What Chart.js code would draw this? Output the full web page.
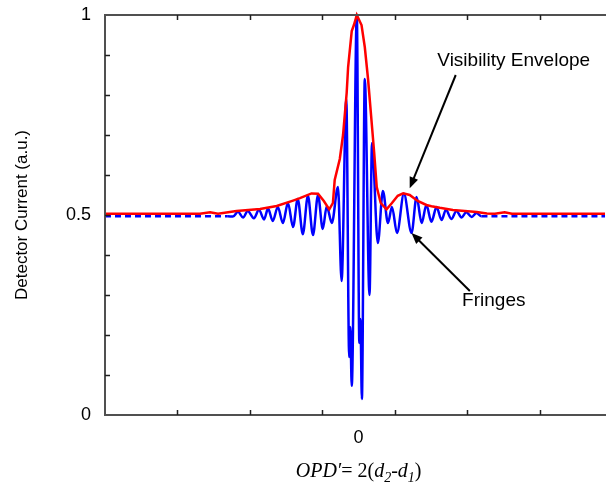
<!DOCTYPE html>
<html lang="en">
<head>
    <meta charset="UTF-8">
    <title>fringes | envelope</title>
    <script src="https://cdn.jsdelivr.net/npm/chart.js@4.4.1/dist/chart.umd.min.js"></script>
    <style>
        body { margin: 0; background: #fff; }
        #box { width: 606px; height: 492px; }
    </style>
</head>
<body>
    <div id="box"><canvas id="graph"></canvas></div>
    <script>
        // blue fringes (x = OPD, y = detector current)
        const fringeX = [-70, -36.1, -34.7, -33.3, -31.9, -30.6, -28.9, -27.5, -26.1, -25.0, -23.7, -22.3, -20.9, -19.5, -18.1, -16.8, -15.4, -14.0, -12.6, -11.2, -9.9, -8.8, -7.4, -5.7, -4.7, -3.4, -2.6, -2.3, -1.9, -0.5, 0.2, 0.5, 0.9, 1.7, 3.0, 3.7, 5.3, 6.7, 8.1, 9.2, 10.6, 12.5, 14.6, 16.0, 17.4, 18.7, 20.1, 21.5, 22.9, 24.1, 25.6, 27.0, 28.4, 29.7, 31.2, 32.5, 33.9, 68];
        const fringeY = [0.497, 0.497, 0.496, 0.508, 0.494, 0.51, 0.492, 0.513, 0.489, 0.516, 0.485, 0.52, 0.48, 0.53, 0.47, 0.54, 0.452, 0.548, 0.45, 0.55, 0.465, 0.522, 0.48, 0.57, 0.335, 0.79, 0.145, 0.22, 0.073, 1.0, 0.18, 0.24, 0.04, 0.84, 0.3, 0.68, 0.43, 0.56, 0.48, 0.52, 0.455, 0.553, 0.455, 0.545, 0.48, 0.525, 0.483, 0.52, 0.4875, 0.513, 0.49, 0.51, 0.494, 0.507, 0.495, 0.505, 0.497, 0.497];

        // red visibility envelope
        const envX = [-70, -43.8, -41.0, -38.8, -33.7, -27.2, -22.6, -18.1, -16.2, -13.0, -11.2, -9.6, -8.1, -7.1, -6.6, -5.2, -4.3, -3.3, -2.9, -1.9, -1.3, -0.5, 0.8, 1.7, 2.6, 4.3, 5.0, 6.1, 7.7, 9.2, 10.8, 12.3, 14.1, 16.3, 18.7, 20.1, 22.4, 26.0, 32.6, 35.4, 37.6, 40.3, 42.3, 68];
        const envY = [0.503, 0.503, 0.507, 0.503, 0.51, 0.515, 0.5225, 0.536, 0.542, 0.554, 0.553, 0.535, 0.514, 0.53, 0.5875, 0.64, 0.7, 0.805, 0.87, 0.96, 0.975, 1.0, 0.975, 0.92, 0.84, 0.655, 0.57, 0.53, 0.514, 0.53, 0.548, 0.554, 0.55, 0.535, 0.525, 0.522, 0.518, 0.5125, 0.5075, 0.504, 0.503, 0.507, 0.503, 0.503];

        const xTicks = [-70, -50, -30, -10, 0, 10, 30, 50];
        const xLabels = ['', '', '', '', '0', '', '', ''];
        const yLabels = ['0', '0.5', '1'];

        // annotations: label, text position, arrow start, arrow tip
        const noteText = ['Visibility Envelope', 'Fringes'];
        const noteAt = [[42.8, 0.885], [37.3, 0.285]];
        const arrowFrom = [[26.8, 0.85], [30.7, 0.31]];
        const arrowTo = [[14.1, 0.567], [14.6, 0.455]];

        const pts = (xs, ys) => xs.map((x, i) => ({ x: x, y: ys[i] }));
        const sans = '"Liberation Sans", Arial, sans-serif';

        const frame = {
            id: 'frame',
            afterDatasetsDraw(chart) {
                const c = chart.ctx, a = chart.chartArea;
                const sx = chart.scales.x, sy = chart.scales.y;
                c.save();
                c.strokeStyle = '#505050';
                c.lineWidth = 2;
                c.beginPath();
                c.moveTo(a.right + 2, a.top); c.lineTo(a.left, a.top);
                c.lineTo(a.left, a.bottom); c.lineTo(a.right + 2, a.bottom);
                c.stroke();
                c.strokeStyle = '#202020';
                c.lineWidth = 1.5;
                c.beginPath();
                xTicks.forEach(v => {
                    if (v === 0 || v === sx.min) return;
                    const px = Math.round(sx.getPixelForValue(v)) + 0.5;
                    c.moveTo(px, a.top); c.lineTo(px, a.top + 5);
                    c.moveTo(px, a.bottom); c.lineTo(px, a.bottom - 5);
                });
                for (let k = 1; k < 10; k++) {
                    const py = Math.round(sy.getPixelForValue(k / 10)) + 0.5;
                    c.moveTo(a.left, py); c.lineTo(a.left + 5, py);
                }
                c.stroke();

                // notes and arrows
                c.fillStyle = '#000';
                c.strokeStyle = '#000';
                c.font = '19px ' + sans;
                c.textAlign = 'center';
                c.textBaseline = 'middle';
                noteText.forEach((t, i) => {
                    c.fillText(t, sx.getPixelForValue(noteAt[i][0]), sy.getPixelForValue(noteAt[i][1]));
                    const x0 = sx.getPixelForValue(arrowFrom[i][0]), y0 = sy.getPixelForValue(arrowFrom[i][1]);
                    const x1 = sx.getPixelForValue(arrowTo[i][0]), y1 = sy.getPixelForValue(arrowTo[i][1]);
                    const ang = Math.atan2(y1 - y0, x1 - x0);
                    const hl = 11, hw = 4.5;
                    c.lineWidth = 2;
                    c.beginPath();
                    c.moveTo(x0, y0);
                    c.lineTo(x1 - Math.cos(ang) * hl * 0.8, y1 - Math.sin(ang) * hl * 0.8);
                    c.stroke();
                    c.beginPath();
                    c.moveTo(x1, y1);
                    c.lineTo(x1 - Math.cos(ang) * hl - Math.sin(ang) * hw, y1 - Math.sin(ang) * hl + Math.cos(ang) * hw);
                    c.lineTo(x1 - Math.cos(ang) * hl + Math.sin(ang) * hw, y1 - Math.sin(ang) * hl - Math.cos(ang) * hw);
                    c.closePath();
                    c.fill();
                });

                // x axis title with subscripts
                const runs = [
                    ['OPD\u2032', 'italic', 0], ['= 2(', 'normal', 0], ['d', 'italic', 0], ['2', 'italic', 1],
                    ['-', 'normal', 0], ['d', 'italic', 0], ['1', 'italic', 1], [')', 'normal', 0]
                ];
                const fnt = (st, sub) => st + ' ' + (sub ? 14 : 20) + 'px "Liberation Serif", "Times New Roman", serif';
                let w = 0;
                runs.forEach(r => { c.font = fnt(r[1], r[2]); w += c.measureText(r[0]).width; });
                let x = sx.getPixelForValue(0) - w / 2;
                const base = a.bottom + 62;
                c.textAlign = 'left';
                c.textBaseline = 'alphabetic';
                runs.forEach(r => {
                    c.font = fnt(r[1], r[2]);
                    c.fillText(r[0], x, base + (r[2] ? 5 : 0));
                    x += c.measureText(r[0]).width;
                });
                c.restore();
            }
        };

        let graph = new Chart(document.getElementById('graph').getContext('2d'), {
            type: 'line',
            data: {
                datasets: [{
                    label: 'envelope',
                    data: pts(envX, envY),
                    borderColor: '#ff0000',
                    borderWidth: 2.5,
                    pointRadius: 0,
                    tension: 0,
                    clip: false
                }, {
                    label: 'fringes',
                    data: pts(fringeX, fringeY),
                    borderColor: '#0000ff',
                    borderWidth: 2.5,
                    pointRadius: 0,
                    cubicInterpolationMode: 'monotone',
                    clip: false,
                    segment: {
                        borderDash: ctx => ctx.p0.parsed.y === ctx.p1.parsed.y ? [6, 4] : undefined
                    }
                }]
            },
            options: {
                responsive: true,
                maintainAspectRatio: false,
                animation: false,
                layout: { padding: { top: 15, right: 1 } },
                plugins: { legend: { display: false }, tooltip: { enabled: false } },
                scales: {
                    x: {
                        type: 'linear',
                        min: -70,
                        max: 68,
                        afterBuildTicks: s => { s.ticks = xTicks.map(v => ({ value: v })); },
                        afterFit: s => { s.height = 77; s.paddingLeft = 0; s.paddingRight = 0; },
                        grid: { display: false, drawTicks: false },
                        border: { display: false },
                        ticks: {
                            padding: 12,
                            color: '#000',
                            font: { family: sans, size: 18 },
                            maxRotation: 0,
                            autoSkip: false,
                            callback: (v, i) => xLabels[i]
                        }
                    },
                    y: {
                        min: 0,
                        max: 1,
                        afterFit: s => { s.width = 105; s.paddingTop = 0; s.paddingBottom = 0; },
                        grid: { display: false, drawTicks: false },
                        border: { display: false },
                        ticks: {
                            stepSize: 0.1,
                            padding: 14,
                            color: '#000',
                            font: { family: sans, size: 18 },
                            autoSkip: false,
                            callback: v => {
                                const r = Math.round(v * 10);
                                return r === 0 ? yLabels[0] : r === 5 ? yLabels[1] : r === 10 ? yLabels[2] : '';
                            }
                        },
                        title: {
                            display: true,
                            text: 'Detector Current (a.u.)',
                            color: '#000',
                            font: { family: sans, size: 17 },
                            padding: { top: 12, bottom: 4 }
                        }
                    }
                }
            },
            plugins: [frame]
        });
    </script>
</body>
</html>
